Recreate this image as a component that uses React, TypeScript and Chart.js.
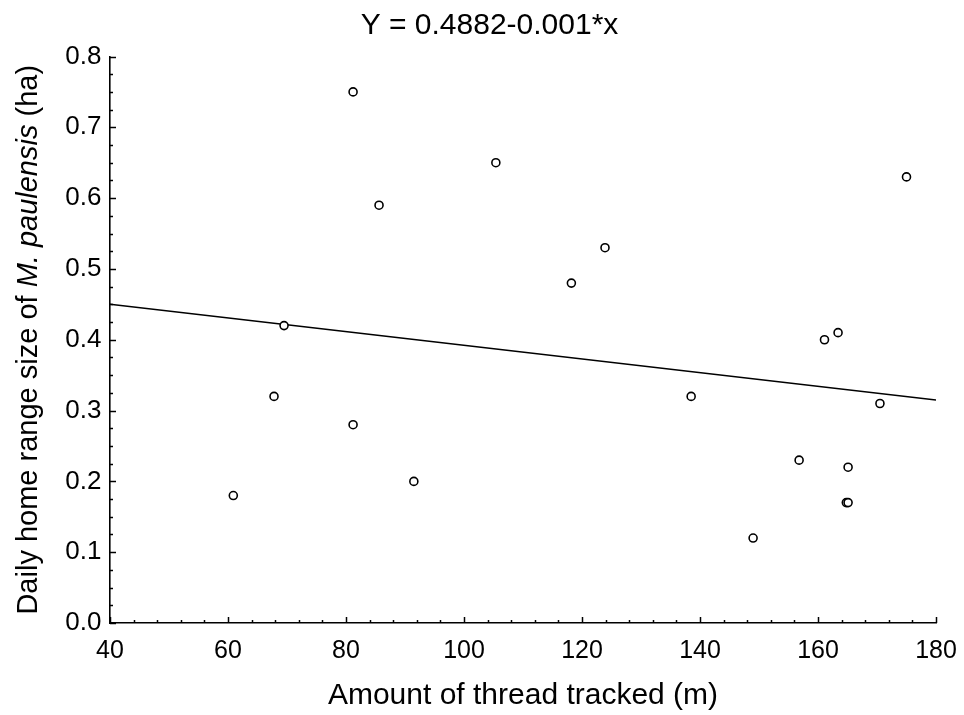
import React, { useEffect, useRef } from "react";
import { Chart, registerables } from "chart.js";

Chart.register(...registerables);

// ---- data ----
const threadTracked = [60.9, 67.8, 69.5, 81.2, 81.2, 85.6, 91.5, 105.4, 118.2, 123.9, 138.5, 149.0, 156.8, 161.1, 163.4, 165.1, 164.8, 165.1, 170.5, 175.0];
const homeRange = [0.18, 0.32, 0.42, 0.75, 0.28, 0.59, 0.20, 0.65, 0.48, 0.53, 0.32, 0.12, 0.23, 0.40, 0.41, 0.22, 0.17, 0.17, 0.31, 0.63];
const fitX = [40, 180];
const fitY = [0.45, 0.315];

const xMin = 40;
const xMax = 180;
const xMajorStep = 20;
const xMinorPerMajor = 5;
const yMin = 0;
const yMax = 0.8;
const yMajorStep = 0.1;
const yMinorPerMajor = 4;

const titleText = "Y = 0.4882-0.001*x";
const xTitleText = "Amount of thread tracked (m)";
const yTitleParts = [
  { text: "Daily home range size of ", italic: false },
  { text: "M. paulensis", italic: true },
  { text: " (ha)", italic: false },
];

const FONT = "'Liberation Sans', Arial, Helvetica, sans-serif";

const inwardTicks = {
  id: "inwardTicks",
  afterDraw(chart: any) {
    const { ctx, chartArea, scales } = chart;
    const x = scales.x;
    const y = scales.y;
    ctx.save();
    ctx.strokeStyle = "#000";
    ctx.lineWidth = 1.5;
    const nx = Math.round((x.max - x.min) / (xMajorStep / xMinorPerMajor));
    for (let i = 0; i <= nx; i++) {
      const v = x.min + (i * xMajorStep) / xMinorPerMajor;
      const px = Math.round(x.getPixelForValue(v)) + 0.5;
      const len = i % xMinorPerMajor === 0 ? 6 : 3;
      ctx.beginPath();
      ctx.moveTo(px, chartArea.bottom);
      ctx.lineTo(px, chartArea.bottom - len);
      ctx.stroke();
    }
    const ny = Math.round((y.max - y.min) / (yMajorStep / yMinorPerMajor));
    for (let i = 0; i <= ny; i++) {
      const v = y.min + (i * yMajorStep) / yMinorPerMajor;
      const py = Math.round(y.getPixelForValue(v)) + 0.5;
      const len = i % yMinorPerMajor === 0 ? 6 : 3;
      ctx.beginPath();
      ctx.moveTo(chartArea.left, py);
      ctx.lineTo(chartArea.left + len, py);
      ctx.stroke();
    }
    ctx.restore();
  },
};

const yTitlePlugin = {
  id: "yTitleMixed",
  afterDraw(chart: any) {
    const { ctx, chartArea } = chart;
    const size = 29;
    const fonts = yTitleParts.map((p) => (p.italic ? "italic " : "") + size + "px " + FONT);
    ctx.save();
    const widths = yTitleParts.map((p, i) => {
      ctx.font = fonts[i];
      return ctx.measureText(p.text).width;
    });
    const total = widths.reduce((a, b) => a + b, 0);
    ctx.translate(37, (chartArea.top + chartArea.bottom) / 2);
    ctx.rotate(-Math.PI / 2);
    ctx.fillStyle = "#000";
    ctx.textBaseline = "alphabetic";
    ctx.textAlign = "left";
    let cx = -total / 2;
    yTitleParts.forEach((p, i) => {
      ctx.font = fonts[i];
      ctx.fillText(p.text, cx, 0);
      cx += widths[i];
    });
    ctx.restore();
  },
};

export default function App() {
  const canvasRef = useRef<HTMLCanvasElement | null>(null);

  useEffect(() => {
    if (!canvasRef.current) return;
    const chart = new Chart(canvasRef.current, {
      type: "scatter",
      data: {
        datasets: [
          {
            label: "Data",
            data: threadTracked.map((v, i) => ({ x: v, y: homeRange[i] })),
            pointStyle: "circle",
            pointRadius: 4,
            pointBorderWidth: 1.6,
            pointBorderColor: "#000",
            pointBackgroundColor: "#fff",
            showLine: false,
          },
          {
            label: "Fit",
            data: fitX.map((v, i) => ({ x: v, y: fitY[i] })),
            showLine: true,
            borderColor: "#000",
            borderWidth: 1.5,
            pointRadius: 0,
            fill: false,
          },
        ],
      },
      options: {
        responsive: false,
        animation: false,
        events: [],
        layout: { padding: { left: 43, right: 28, top: 0, bottom: 0 } },
        plugins: {
          legend: { display: false },
          tooltip: { enabled: false },
          title: {
            display: true,
            text: titleText,
            color: "#000",
            font: { family: FONT, size: 30, weight: "normal" },
            padding: { top: 7.5, bottom: 13 },
          },
        },
        scales: {
          x: {
            type: "linear",
            min: xMin,
            max: xMax,
            afterFit: (scale: any) => {
              scale.height = 92;
              scale.paddingLeft = 0;
              scale.paddingRight = 0;
            },
            ticks: {
              stepSize: xMajorStep,
              color: "#000",
              font: { family: FONT, size: 25 },
              padding: 13,
              maxRotation: 0,
            },
            grid: { display: false, drawTicks: false },
            border: { display: true, color: "#000", width: 1.6 },
            title: {
              display: true,
              text: xTitleText,
              color: "#000",
              font: { family: FONT, size: 30 },
              padding: { top: 0, bottom: 1 },
            },
          },
          y: {
            type: "linear",
            min: yMin,
            max: yMax,
            afterFit: (scale: any) => {
              scale.width = 67;
              scale.paddingTop = 0;
              scale.paddingBottom = 0;
            },
            ticks: {
              stepSize: yMajorStep,
              color: "#000",
              font: { family: FONT, size: 26 },
              padding: 8.5,
              callback: (v: any) => Number(v).toFixed(1),
            },
            grid: { display: false, drawTicks: false },
            border: { display: true, color: "#000", width: 1.6 },
          },
        },
      },
      plugins: [inwardTicks, yTitlePlugin],
    });
    return () => chart.destroy();
  }, []);

  return (
    <canvas
      ref={canvasRef}
      width={964}
      height={715}
      style={{ position: "absolute", left: 0, top: 0, display: "block", background: "#fff" }}
    />
  );
}
